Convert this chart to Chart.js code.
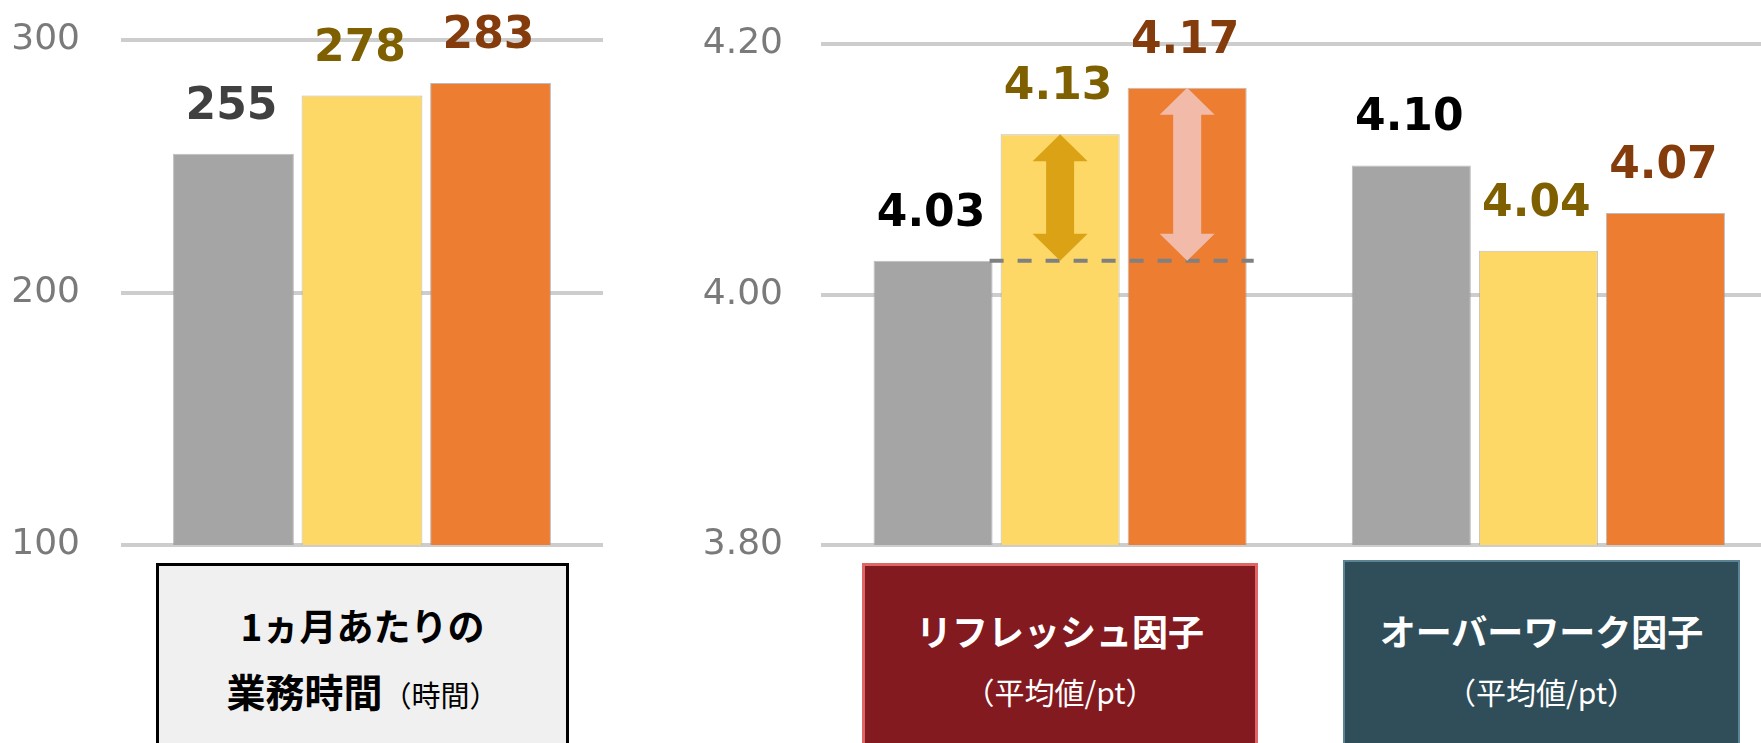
<!DOCTYPE html>
<html lang="ja">
<head>
<meta charset="utf-8">
<title>業務時間と因子の比較</title>
<script src="https://cdn.jsdelivr.net/npm/chart.js@4/dist/chart.umd.min.js"></script>
<style>
  html, body { margin: 0; padding: 0; background: #fff; }
  body { position: relative; width: 1761px; height: 743px; overflow: hidden; font-family: "Noto Sans CJK JP", "Noto Sans", sans-serif; }
  canvas { position: absolute; }
  #timeChart { left: 0; top: -23px; }
  #factorChart { left: 640px; top: -17px; }
  .box { position: absolute; box-sizing: border-box; height: 230px; }
  .box .line { position: absolute; left: 0; width: 100%; text-align: center; line-height: 50px; white-space: nowrap; }
  #boxTime { left: 156px; top: 563px; width: 413px; background: #f0f0f0; border: 3px solid #000; color: #000; }
  #boxRefresh { left: 862px; top: 563px; width: 396px; background: #831a1f; border: 3px solid #e06666; color: #fff; }
  #boxOver { left: 1343px; top: 560px; width: 397px; background: #2f4e59; border: 2px solid #5a8393; color: #fff; }
  .main { font-size: 36px; font-weight: bold; }
  .sub { font-size: 30px; font-weight: normal; }
</style>
</head>
<body>
<canvas id="timeChart" width="620" height="640"></canvas>
<canvas id="factorChart" width="1140" height="640"></canvas>

<div class="box" id="boxTime">
  <div class="line main" style="top:34px;font-size:37px">1ヵ月あたりの</div>
  <div class="line main" style="top:99px;font-size:39px">業務時間<span class="sub" style="font-size:29px">（時間）</span></div>
</div>
<div class="box" id="boxRefresh">
  <div class="line main" style="top:39px">リフレッシュ因子</div>
  <div class="line sub" style="top:100px">（平均値/pt）</div>
</div>
<div class="box" id="boxOver">
  <div class="line main" style="top:43px">オーバーワーク因子</div>
  <div class="line sub" style="top:104px">（平均値/pt）</div>
</div>

<script>
// left panel: monthly working hours
const timeCategories = ['1ヵ月あたりの業務時間'];
const timeGray = [255];
const timeYellow = [278];
const timeOrange = [283];
const timeTicks = [100, 200, 300];

// right panel: factor averages (bar heights as read, labels as printed)
const factorCategories = ['リフレッシュ因子', 'オーバーワーク因子'];
const factorGray = [4.027, 4.103];
const factorYellow = [4.128, 4.035];
const factorOrange = [4.165, 4.065];
const factorGrayLabels = ['4.03', '4.10'];
const factorYellowLabels = ['4.13', '4.04'];
const factorOrangeLabels = ['4.17', '4.07'];
const factorTicks = [3.8, 4.0, 4.2];

const BAR = { gray: '#a5a5a5', yellow: '#fdd866', orange: '#ed7d31' };
const LABEL_FONT = 'bold 44px "DejaVu Sans", sans-serif';

// value labels above bars
const valueLabels = {
  id: 'valueLabels',
  afterDatasetsDraw(chart) {
    const ctx = chart.ctx;
    ctx.save();
    ctx.font = LABEL_FONT;
    ctx.textAlign = 'center';
    ctx.textBaseline = 'alphabetic';
    chart.data.datasets.forEach((ds, di) => {
      chart.getDatasetMeta(di).data.forEach((bar, i) => {
        ctx.fillStyle = ds.labelColor;
        ctx.fillText(ds.labels[i], bar.x - 2, bar.y - 35);
      });
    });
    ctx.restore();
  }
};

function drawDoubleArrow(ctx, x, yTop, yBot, color) {
  const hw = 27.5, hh = 27, sw = 14;
  ctx.beginPath();
  ctx.moveTo(x, yTop);
  ctx.lineTo(x + hw, yTop + hh);
  ctx.lineTo(x + sw, yTop + hh);
  ctx.lineTo(x + sw, yBot - hh);
  ctx.lineTo(x + hw, yBot - hh);
  ctx.lineTo(x, yBot);
  ctx.lineTo(x - hw, yBot - hh);
  ctx.lineTo(x - sw, yBot - hh);
  ctx.lineTo(x - sw, yTop + hh);
  ctx.lineTo(x - hw, yTop + hh);
  ctx.closePath();
  ctx.fillStyle = color;
  ctx.fill();
}

// dashed baseline at the gray value + difference arrows (first group only)
const diffArrows = {
  id: 'diffArrows',
  afterDatasetsDraw(chart) {
    const ctx = chart.ctx;
    const y = chart.scales.y.getPixelForValue(factorGray[0]);
    const g = chart.getDatasetMeta(0).data[0];
    const yb = chart.getDatasetMeta(1).data[0];
    const ob = chart.getDatasetMeta(2).data[0];
    ctx.save();
    ctx.strokeStyle = '#808080';
    ctx.lineWidth = 4;
    ctx.setLineDash([14, 14]);
    ctx.beginPath();
    ctx.moveTo(g.x + g.width / 2 - 3, y);
    ctx.lineTo(ob.x + ob.width / 2 + 7, y);
    ctx.stroke();
    ctx.setLineDash([]);
    drawDoubleArrow(ctx, yb.x, yb.y, y, '#dba216');
    drawDoubleArrow(ctx, ob.x, ob.y, y, '#f2bba9');
    ctx.restore();
  }
};

function makeDataset(values, color, labels, labelColor, cp, bp) {
  return {
    data: values,
    backgroundColor: color,
    borderColor: 'rgba(160,160,160,0.7)',
    borderWidth: 1,
    categoryPercentage: cp,
    barPercentage: bp,
    labels: labels,
    labelColor: labelColor
  };
}

// tick padding also pads the axis vertically, so layout padding has to exceed it
function makeOptions(min, max, ticks, fmt, axisWidth, tickPad, padding) {
  return {
    responsive: false,
    animation: false,
    layout: { padding },
    plugins: { legend: { display: false }, tooltip: { enabled: false } },
    scales: {
      x: { display: false },
      y: {
        min, max,
        afterFit(scale) { scale.width = axisWidth; },
        afterBuildTicks(scale) { scale.ticks = ticks.map(v => ({ value: v })); },
        border: { display: false },
        grid: { color: '#cdcdcd', lineWidth: 4, drawTicks: false },
        ticks: {
          padding: tickPad,
          color: '#7a7a7a',
          font: { family: '"DejaVu Sans", sans-serif', size: 36 },
          callback: fmt
        }
      }
    }
  };
}

new Chart(document.getElementById('timeChart'), {
  type: 'bar',
  data: {
    labels: timeCategories,
    datasets: [
      makeDataset(timeGray, BAR.gray, timeGray.map(String), '#404040', 0.8, 0.94),
      makeDataset(timeYellow, BAR.yellow, timeYellow.map(String), '#7f6000', 0.8, 0.94),
      makeDataset(timeOrange, BAR.orange, timeOrange.map(String), '#843c0c', 0.8, 0.94)
    ]
  },
  options: makeOptions(100, 300, timeTicks, v => String(v), 121, 41,
    { top: 63, bottom: 72, left: 0, right: 17 }),
  plugins: [valueLabels]
});

new Chart(document.getElementById('factorChart'), {
  type: 'bar',
  data: {
    labels: factorCategories,
    datasets: [
      makeDataset(factorGray, BAR.gray, factorGrayLabels, '#000000', 0.797, 0.937),
      makeDataset(factorYellow, BAR.yellow, factorYellowLabels, '#7f6000', 0.797, 0.937),
      makeDataset(factorOrange, BAR.orange, factorOrangeLabels, '#843c0c', 0.797, 0.937)
    ]
  },
  options: makeOptions(3.8, 4.2, factorTicks, v => Number(v).toFixed(2), 181, 38,
    { top: 61, bottom: 78, left: 0, right: 2.5 }),
  plugins: [diffArrows, valueLabels]
});
</script>
</body>
</html>
